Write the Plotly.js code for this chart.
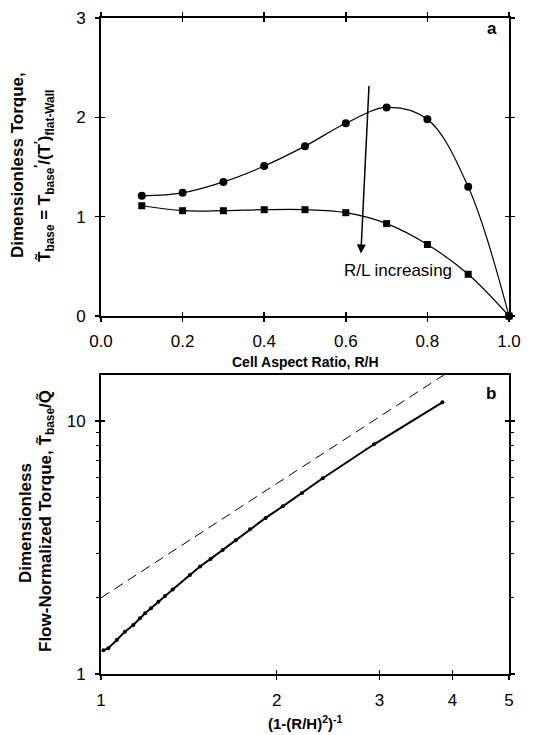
<!DOCTYPE html>
<html>
<head>
<meta charset="utf-8">
<script src="https://cdn.plot.ly/plotly-3.0.1.min.js"></script>
<style>html,body{margin:0;padding:0;background:#fff;}#chart{width:543px;height:735px;}</style>
</head>
<body>
<div id="chart"></div>
<script>
// Panel a data
const aspectRatio = [0.1, 0.2, 0.3, 0.4, 0.5, 0.6, 0.7, 0.8, 0.9, 1.0];
const torqueCircles = [1.21, 1.24, 1.35, 1.51, 1.71, 1.94, 2.10, 1.98, 1.30, 0.0];
const torqueSquares = [1.11, 1.06, 1.06, 1.07, 1.07, 1.04, 0.93, 0.72, 0.42, 0.0];
const xTicksA = [0.0, 0.2, 0.4, 0.6, 0.8, 1.0];
const xTickTextA = ["0.0", "0.2", "0.4", "0.6", "0.8", "1.0"];
const yTicksA = [0, 1, 2, 3];

// Panel b data
const invArea = [1.01, 1.029, 1.064, 1.099, 1.136, 1.166, 1.190, 1.218, 1.254, 1.287, 1.327, 1.420, 1.478, 1.541, 1.616, 1.701, 1.800, 1.915, 2.048, 2.210, 2.398, 2.936, 3.845];
const flowTorque = [1.24, 1.264, 1.363, 1.47, 1.562, 1.66, 1.737, 1.818, 1.931, 2.034, 2.16, 2.46, 2.66, 2.85, 3.09, 3.38, 3.73, 4.14, 4.60, 5.19, 5.94, 8.09, 11.85];
const dashedX = [1, 4];
const dashedY = [2, 16];
const xTicksB = [1, 2, 3, 4, 5];
const yTicksB = [1, 10];
const yMinorB = [2, 3, 4, 5, 6, 7, 8, 9];

// Arrow (data coordinates)
const arrowTail = [0.657, 2.33];
const arrowHead = [0.637, 0.63];

const FONT = "Liberation Sans, Arial, Helvetica, sans-serif";
const W = 543, H = 735;
const px = v => v / W;
const py = v => 1 - v / H;

const traces = [
  {x: aspectRatio, y: torqueCircles, xaxis: 'x', yaxis: 'y', mode: 'lines+markers', type: 'scatter',
   line: {shape: 'spline', smoothing: 1, color: '#000', width: 1.2},
   marker: {symbol: 'circle', size: 8, color: '#000'}, cliponaxis: false},
  {x: aspectRatio, y: torqueSquares, xaxis: 'x', yaxis: 'y', mode: 'lines+markers', type: 'scatter',
   line: {shape: 'spline', smoothing: 1, color: '#000', width: 1.2},
   marker: {symbol: 'square', size: 7, color: '#000'}, cliponaxis: false},
  {x: dashedX, y: dashedY, xaxis: 'x2', yaxis: 'y2', mode: 'lines', type: 'scatter',
   line: {color: '#000', width: 1, dash: '10px,6px'}},
  {x: invArea, y: flowTorque, xaxis: 'x2', yaxis: 'y2', mode: 'lines+markers', type: 'scatter',
   line: {color: '#000', width: 2},
   marker: {symbol: 'circle', size: 4, color: '#000'}},
  // invisible carriers for the inner-tick overlay axes
  {x: [], y: [], xaxis: 'x3', yaxis: 'y3', mode: 'markers', type: 'scatter', hoverinfo: 'skip'},
  {x: [], y: [], xaxis: 'x4', yaxis: 'y4', mode: 'markers', type: 'scatter', hoverinfo: 'skip'}
];

const axisCommon = {
  showline: true, linecolor: '#000', linewidth: 2, mirror: 'allticks',
  ticks: 'outside', ticklen: 4, tickwidth: 1.5, tickcolor: '#000',
  showgrid: false, zeroline: false,
  tickfont: {family: FONT, size: 17, color: '#000'}
};
const innerCommon = {
  showline: false, mirror: 'allticks', ticks: 'inside', ticklen: 4, tickwidth: 1.5, tickcolor: '#000',
  showgrid: false, zeroline: false, showticklabels: false
};

const layout = {
  width: W, height: H,
  margin: {l: 0, r: 0, t: 0, b: 0},
  paper_bgcolor: '#fff', plot_bgcolor: '#fff',
  showlegend: false,
  font: {family: FONT, color: '#000'},
  xaxis: Object.assign({}, axisCommon, {
    domain: [px(101), px(509)], anchor: 'y', range: [0, 1],
    tickvals: xTicksA, ticktext: xTickTextA, ticklabelstandoff: 5
  }),
  yaxis: Object.assign({}, axisCommon, {
    domain: [py(316), py(18)], anchor: 'x', range: [0, 3],
    tickvals: yTicksA, ticklabelstandoff: 6
  }),
  xaxis3: Object.assign({}, innerCommon, {
    overlaying: 'x', anchor: 'y3', range: [0, 1], tickvals: xTicksA
  }),
  yaxis3: Object.assign({}, innerCommon, {
    overlaying: 'y', anchor: 'x3', range: [0, 3], tickvals: yTicksA
  }),
  xaxis2: Object.assign({}, axisCommon, {
    domain: [px(101), px(509)], anchor: 'y2', type: 'log',
    range: [0, Math.log10(5)], tickvals: xTicksB, ticktext: xTicksB.map(String),
    mirror: true, ticklabelstandoff: 6
  }),
  yaxis2: Object.assign({}, axisCommon, {
    domain: [py(674), py(375)], anchor: 'x2', type: 'log',
    range: [0, Math.log10(15.2)], tickvals: yTicksB, ticktext: yTicksB.map(String),
    mirror: 'allticks', ticklabelstandoff: 6,
    minor: {tickvals: yMinorB, ticks: 'outside', ticklen: 3, tickwidth: 1, tickcolor: '#000', showgrid: false}
  }),
  xaxis4: Object.assign({}, innerCommon, {
    overlaying: 'x2', anchor: 'y4', type: 'log', range: [0, Math.log10(5)], tickvals: xTicksB, mirror: false
  }),
  yaxis4: Object.assign({}, innerCommon, {
    overlaying: 'y2', anchor: 'x4', type: 'log', range: [0, Math.log10(15.2)], tickvals: yTicksB
  }),
  annotations: [
    {xref: 'x', yref: 'y', x: arrowHead[0], y: arrowHead[1], axref: 'x', ayref: 'y',
     ax: arrowTail[0], ay: arrowTail[1], showarrow: true, arrowhead: 2, arrowsize: 1.2,
     arrowwidth: 1.5, arrowcolor: '#000', text: ''},
    {xref: 'x', yref: 'y', x: 0.727, y: 0.46, text: 'R/L increasing', showarrow: false,
     font: {family: FONT, size: 17, color: '#000'}, xanchor: 'center', yanchor: 'middle'},
    {xref: 'paper', yref: 'paper', x: px(492), y: py(29), text: '<b>a</b>', showarrow: false,
     font: {family: FONT, size: 17, color: '#000'}, xanchor: 'center', yanchor: 'middle'},
    {xref: 'paper', yref: 'paper', x: px(491), y: py(393), text: '<b>b</b>', showarrow: false,
     font: {family: FONT, size: 17, color: '#000'}, xanchor: 'center', yanchor: 'middle'},
    {xref: 'paper', yref: 'paper', x: px(305), y: py(362), text: '<b>Cell Aspect Ratio, R/H</b>',
     showarrow: false, font: {family: FONT, size: 14, color: '#000'}, xanchor: 'center', yanchor: 'middle'},
    {xref: 'paper', yref: 'paper', x: px(305), y: py(722), text: '<b>(1-(R/H)<sup>2</sup>)<sup>-1</sup></b>',
     showarrow: false, font: {family: FONT, size: 15, color: '#000'}, xanchor: 'center', yanchor: 'middle'},
    {xref: 'paper', yref: 'paper', x: px(17), y: py(165), text: '<b>Dimensionless Torque,</b>',
     showarrow: false, textangle: -90, font: {family: FONT, size: 17, color: '#000'}, xanchor: 'center', yanchor: 'middle'},
    {xref: 'paper', yref: 'paper', x: px(44), y: py(176),
     text: '<b>T\u0303<sub>base</sub> = T<sub>base</sub><sup>\u2032</sup>/(T<sup>\u2032</sup>)<sub>flat-Wall</sub></b>',
     showarrow: false, textangle: -90, font: {family: FONT, size: 17, color: '#000'}, xanchor: 'center', yanchor: 'middle'},
    {xref: 'paper', yref: 'paper', x: px(25), y: py(523), text: '<b>Dimensionless</b>',
     showarrow: false, textangle: -90, font: {family: FONT, size: 17, color: '#000'}, xanchor: 'center', yanchor: 'middle'},
    {xref: 'paper', yref: 'paper', x: px(46), y: py(521),
     text: '<b>Flow-Normalized Torque, T\u0303<sub>base</sub>/Q\u0303</b>',
     showarrow: false, textangle: -90, font: {family: FONT, size: 17, color: '#000'}, xanchor: 'center', yanchor: 'middle'}
  ]
};

Plotly.newPlot('chart', traces, layout, {staticPlot: true, displayModeBar: false});
</script>
</body>
</html>
